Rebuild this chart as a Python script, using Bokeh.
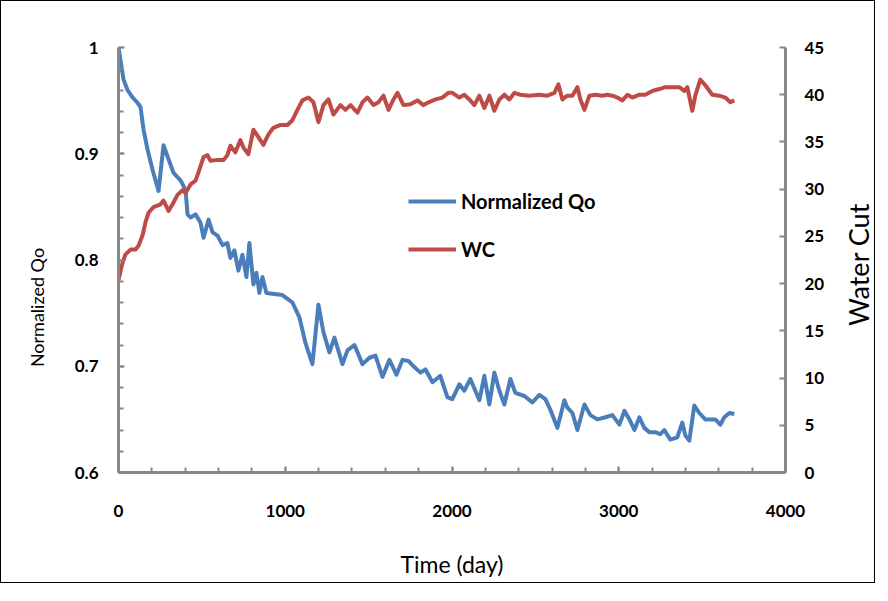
import math
from bokeh.plotting import figure
from bokeh.models import Range1d, LinearAxis, SingleIntervalTicker, NumeralTickFormatter, Legend, LegendItem, Label
from bokeh.embed import file_html
from bokeh.resources import INLINE

# Normalized Qo series (time in days)
qo_time = [0, 30, 54, 84, 114, 132, 150, 174, 204, 240, 270, 300, 330, 372, 402, 414, 432, 462, 492, 510,
           540, 564, 594, 624, 653, 671, 695, 719, 743, 767, 785, 809, 827, 845, 863, 887, 935, 983, 1043, 1085,
           1121, 1163, 1199, 1229, 1265, 1295, 1343, 1373, 1415, 1463, 1505, 1541, 1583, 1625, 1667, 1703, 1739, 1775, 1811, 1841,
           1883, 1930, 1972, 2002, 2044, 2074, 2110, 2164, 2194, 2224, 2254, 2284, 2314, 2350, 2380, 2434, 2482, 2524, 2560, 2590,
           2632, 2674, 2692, 2722, 2752, 2794, 2830, 2872, 2920, 2962, 3004, 3034, 3064, 3094, 3124, 3153, 3183, 3219, 3249, 3273,
           3309, 3351, 3381, 3399, 3423, 3453, 3483, 3519, 3549, 3579, 3609, 3633, 3663, 3693]
qo_value = [1.000, 0.970, 0.960, 0.953, 0.948, 0.944, 0.923, 0.904, 0.885, 0.865, 0.908, 0.895, 0.882, 0.875, 0.866, 0.843, 0.840, 0.843, 0.835, 0.821,
            0.838, 0.826, 0.823, 0.814, 0.816, 0.802, 0.809, 0.790, 0.805, 0.784, 0.816, 0.777, 0.788, 0.769, 0.784, 0.769, 0.768, 0.767, 0.760, 0.746,
            0.722, 0.702, 0.758, 0.732, 0.713, 0.727, 0.702, 0.715, 0.720, 0.702, 0.708, 0.710, 0.690, 0.706, 0.692, 0.706, 0.705, 0.699, 0.694, 0.697,
            0.685, 0.691, 0.671, 0.669, 0.683, 0.677, 0.688, 0.668, 0.691, 0.664, 0.694, 0.677, 0.664, 0.688, 0.675, 0.672, 0.666, 0.673, 0.669, 0.659,
            0.642, 0.668, 0.661, 0.656, 0.640, 0.664, 0.654, 0.650, 0.652, 0.654, 0.645, 0.658, 0.650, 0.640, 0.652, 0.642, 0.638, 0.638, 0.636, 0.640,
            0.631, 0.633, 0.647, 0.635, 0.630, 0.663, 0.656, 0.650, 0.650, 0.650, 0.645, 0.652, 0.656, 0.655]

# Water cut series
wc_time = [0, 24, 42, 72, 102, 120, 144, 162, 180, 210, 252, 270, 300, 324, 354, 384, 402, 432, 462, 480,
           510, 534, 552, 594, 630, 653, 671, 701, 731, 749, 779, 809, 839, 869, 899, 929, 971, 1013, 1043, 1073,
           1103, 1139, 1169, 1199, 1229, 1259, 1289, 1331, 1361, 1391, 1433, 1463, 1493, 1529, 1559, 1589, 1619, 1649, 1673, 1709,
           1751, 1793, 1829, 1859, 1901, 1942, 1978, 2002, 2044, 2074, 2104, 2134, 2164, 2194, 2224, 2254, 2284, 2314, 2344, 2374,
           2410, 2464, 2524, 2572, 2614, 2638, 2662, 2692, 2722, 2752, 2770, 2794, 2824, 2860, 2902, 2932, 2962, 2992, 3022, 3052,
           3082, 3124, 3159, 3201, 3243, 3279, 3321, 3363, 3393, 3411, 3441, 3459, 3489, 3519, 3561, 3603, 3639, 3669, 3693]
wc_value = [20.4, 22.2, 23.1, 23.6, 23.6, 24.0, 25.1, 26.5, 27.5, 28.1, 28.4, 28.8, 27.7, 28.4, 29.4, 29.9, 29.6, 30.5, 30.9, 31.8,
            33.4, 33.6, 33.0, 33.1, 33.1, 33.6, 34.6, 33.9, 35.2, 34.4, 33.7, 36.3, 35.5, 34.7, 35.8, 36.5, 36.8, 36.8, 37.3, 38.4,
            39.4, 39.7, 39.2, 37.1, 38.9, 39.5, 37.9, 38.9, 38.4, 38.9, 38.1, 39.2, 39.7, 38.9, 39.2, 39.9, 38.4, 39.5, 40.2, 38.9,
            39.0, 39.4, 38.9, 39.2, 39.5, 39.7, 40.2, 40.2, 39.7, 40.0, 39.5, 38.9, 39.9, 38.6, 39.9, 38.3, 39.5, 40.0, 39.5, 40.2,
            40.0, 39.9, 40.0, 39.9, 40.2, 41.1, 39.5, 39.9, 39.9, 40.8, 39.5, 38.4, 39.9, 40.0, 39.9, 40.0, 39.9, 39.7, 39.4, 40.0,
            39.7, 40.0, 40.0, 40.4, 40.6, 40.8, 40.8, 40.8, 40.4, 40.8, 38.3, 39.9, 41.6, 41.0, 40.0, 39.9, 39.7, 39.2, 39.4]

x_label = "Time (day)"
y_label = "Normalized Qo"
y2_label = "Water Cut"
series_names = ["Normalized Qo", "WC"]

BLUE = "#4a7ebb"
RED = "#be4b48"
AXIS = "#878787"
FONT = "Lato"

p = figure(width=875, height=583, output_backend="svg", toolbar_location=None,
           x_range=Range1d(0, 4000), y_range=Range1d(0.6, 1.0),
           min_border_left=117, min_border_right=91, min_border_top=46, min_border_bottom=112)
p.styles = {"border": "1px solid black"}
p.outline_line_color = None
p.xgrid.visible = False
p.ygrid.visible = False
p.background_fill_color = "white"
p.border_fill_color = "white"

p.extra_y_ranges = {"wc": Range1d(0, 45)}

r_qo = p.line(qo_time, qo_value, line_color=BLUE, line_width=4, line_join="round")
r_wc = p.line(wc_time, wc_value, line_color=RED, line_width=4, line_join="round", y_range_name="wc")

def style_axis(ax):
    ax.axis_line_color = AXIS
    ax.axis_line_width = 3
    ax.major_tick_line_color = AXIS
    ax.minor_tick_line_color = AXIS
    ax.major_tick_line_width = 2
    ax.minor_tick_line_width = 2
    ax.major_tick_out = 0
    ax.major_tick_in = 6
    ax.minor_tick_out = 0
    ax.minor_tick_in = 5
    ax.major_label_text_font = FONT
    ax.major_label_text_font_style = "bold"
    ax.major_label_text_font_size = "17px"
    ax.major_label_text_color = "black"
    ax.axis_label_text_font = FONT
    ax.axis_label_text_font_style = "normal"
    ax.axis_label_text_color = "black"

xax = p.xaxis[0]
style_axis(xax)
xax.ticker = SingleIntervalTicker(interval=1000, num_minor_ticks=5)
xax.major_label_standoff = 32
xax.axis_label = x_label
xax.axis_label_text_font_size = "23px"
xax.axis_label_standoff = 30

yax = p.yaxis[0]
style_axis(yax)
yax.ticker = SingleIntervalTicker(interval=0.1, num_minor_ticks=5)
yax.formatter = NumeralTickFormatter(format="0.[0]")
yax.major_label_standoff = 20

y2 = LinearAxis(y_range_name="wc", ticker=SingleIntervalTicker(interval=5, num_minor_ticks=0))
style_axis(y2)
y2.major_label_standoff = 19
p.add_layout(y2, "right")

# vertical axis titles (reading bottom to top), placed in the side panels
y_title = Label(x=-13, y=165, x_units="screen", y_units="screen", text=y_label, angle=math.pi / 2,
                text_align="center", text_baseline="middle", text_font=FONT, text_font_size="18px",
                text_color="black")
p.add_layout(y_title, "left")
y2_title = Label(x=31, y=208, x_units="screen", y_units="screen", text=y2_label, angle=math.pi / 2,
                 text_align="center", text_baseline="middle", text_font=FONT, text_font_size="27px",
                 text_color="black")
p.add_layout(y2_title, "right")

legend = Legend(items=[LegendItem(label=series_names[0], renderers=[r_qo]),
                       LegendItem(label=series_names[1], renderers=[r_wc])],
                location=(290, 211), orientation="vertical")
legend.background_fill_alpha = 0
legend.border_line_color = None
legend.padding = 0
legend.margin = 0
legend.spacing = 24
legend.glyph_width = 48
legend.glyph_height = 22
legend.label_height = 22
legend.label_standoff = 5
legend.label_text_font = FONT
legend.label_text_font_style = "bold"
legend.label_text_font_size = "20px"
legend.label_text_color = "black"
p.add_layout(legend, "center")

open("out.html", "w").write(file_html(p, INLINE))
